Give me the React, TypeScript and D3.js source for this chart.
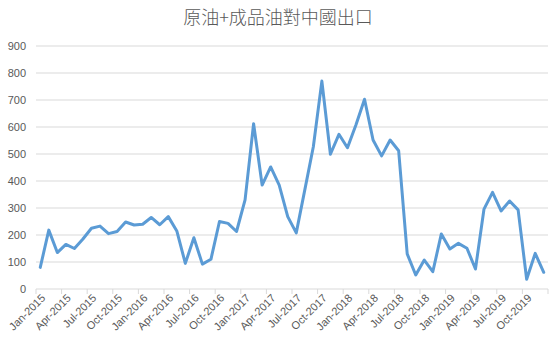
import React from "react";
import * as d3 from "d3";

const months: string[] = [];
const monthNames = ["Jan","Feb","Mar","Apr","May","Jun","Jul","Aug","Sep","Oct","Nov","Dec"];
const years = [2015, 2016, 2017, 2018, 2019];
years.forEach((y) => monthNames.forEach((m) => months.push(`${m}-${y}`)));

const values: number[] = [
  80, 218, 135, 165, 150, 185, 225, 233, 205, 213, 248, 237,
  240, 265, 238, 268, 215, 95, 190, 92, 110, 250, 243, 213,
  330, 612, 385, 452, 385, 268, 208, 367, 527, 770, 499, 573,
  523, 608, 703, 552, 493, 552, 512, 130, 52, 107, 64, 204,
  148, 169, 151, 74, 296, 358, 289, 326, 293, 36, 132, 62,
];

const yTicks: number[] = [0, 100, 200, 300, 400, 500, 600, 700, 800, 900];
const title = "原油+成品油對中國出口";

const W = 556;
const H = 344;
const left = 36;
const right = 548;
const top = 46;
const bottom = 289;

export default function App() {
  const x = d3.scaleBand<string>().domain(months).range([left, right]).padding(0);
  const y = d3.scaleLinear().domain([0, 900]).range([bottom, top]);
  const cx = (m: string) => (x(m) as number) + x.bandwidth() / 2;
  const line = d3
    .line<number>()
    .x((_, i) => cx(months[i]))
    .y((d) => y(d));
  const labelMonths = months.filter((_, i) => i % 3 === 0);
  const font = "'Liberation Sans', Arial, sans-serif";
  return (
    <svg width={W} height={H} style={{ position: "absolute", left: 0, top: 0, background: "#fff" }}>
      <text x={W / 2} y={24} textAnchor="middle" fontSize={18} fill="#595959"
        fontFamily="'Noto Sans CJK TC', 'Noto Sans CJK SC', sans-serif" fontWeight={300}>
        {title}
      </text>
      {yTicks.map((t) => (
        <g key={t}>
          <line x1={left} x2={right} y1={y(t)} y2={y(t)} stroke="#D9D9D9" strokeWidth={1} />
          <text x={26} y={y(t)} dy="0.35em" textAnchor="end" fontSize={11} fill="#595959" fontFamily={font}>
            {t}
          </text>
        </g>
      ))}
      {months.map((m, i) => (
        <line key={m} x1={x(m) as number} x2={x(m) as number} y1={bottom} y2={bottom + 5}
          stroke="#D9D9D9" strokeWidth={1} style={{ display: i % 3 === 0 ? undefined : "none" }} />
      ))}
      <line x1={right} x2={right} y1={bottom} y2={bottom + 5} stroke="#D9D9D9" />
      {labelMonths.map((m) => (
        <text key={m} transform={`translate(${cx(m) + 3},${bottom + 7}) rotate(-45)`}
          textAnchor="end" dy="0.35em" fontSize={11} fill="#595959" fontFamily={font}>
          {m}
        </text>
      ))}
      <path d={line(values) || ""} fill="none" stroke="#5B9BD5" strokeWidth={3}
        strokeLinejoin="round" strokeLinecap="round" />
    </svg>
  );
}
